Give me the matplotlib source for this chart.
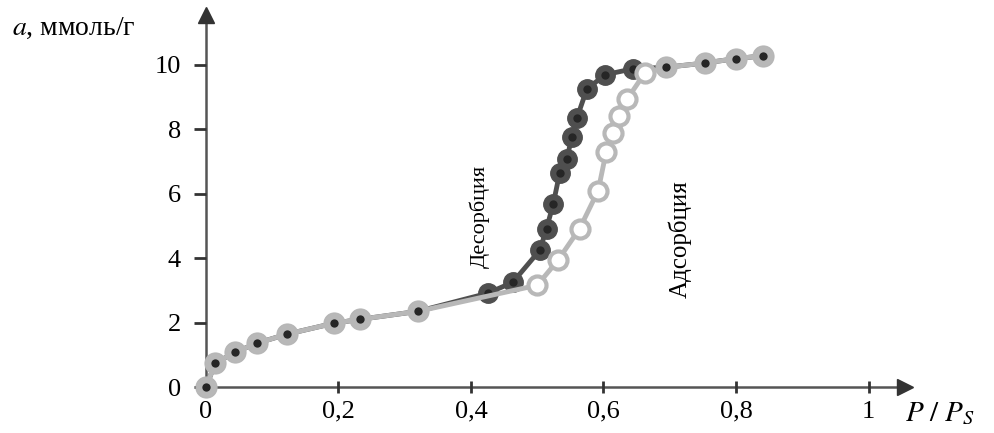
import numpy as np
import matplotlib
matplotlib.use("Agg")
import matplotlib.pyplot as plt

plt.rcParams['font.family'] = ['Liberation Serif', 'DejaVu Serif']
plt.rcParams['mathtext.fontset'] = 'stix'

# common low-pressure branch (both curves coincide)
common_x = [0.0, 0.014, 0.044, 0.077, 0.122, 0.193, 0.232, 0.32]
common_y = [0.0, 0.74, 1.08, 1.36, 1.64, 1.98, 2.10, 2.35]

# plateau points shared by both branches
plateau_x = [0.695, 0.753, 0.80, 0.84]
plateau_y = [9.93, 10.06, 10.20, 10.28]

# desorption branch (dark)
des_x = [0.425, 0.463, 0.504, 0.514, 0.524, 0.534, 0.545, 0.552, 0.560, 0.575, 0.603, 0.644]
des_y = [2.91, 3.25, 4.25, 4.92, 5.67, 6.66, 7.09, 7.77, 8.36, 9.26, 9.70, 9.88]

# adsorption branch (light)
ads_x = [0.50, 0.531, 0.564, 0.592, 0.604, 0.615, 0.624, 0.636, 0.662]
ads_y = [3.16, 3.93, 4.92, 6.10, 7.30, 7.88, 8.42, 8.95, 9.74]

xticks = [0, 0.2, 0.4, 0.6, 0.8, 1.0]
xtick_labels = ["0", "0,2", "0,4", "0,6", "0,8", "1"]
yticks = [0, 2, 4, 6, 8, 10]

fig = plt.figure(figsize=(9.95, 4.33), dpi=100)
ax = fig.add_axes([0.207, 0.1062, 0.7025, 0.859])

dx = common_x + des_x + plateau_x
dy = common_y + des_y + plateau_y
ax_ = common_x + ads_x + plateau_x
ay_ = common_y + ads_y + plateau_y

dark = '#4f4f4f'
light = '#b8b8b8'

ax.plot(dx, dy, '-', color=dark, lw=3.5, zorder=2, clip_on=False)
ax.plot(dx, dy, 'o', ms=14, mfc=dark, mec=dark, zorder=3, clip_on=False)
ax.plot(dx, dy, 'o', ms=6, mfc='#262626', mec='none', zorder=4, clip_on=False)

ax.plot(ax_, ay_, '-', color=light, lw=3.5, zorder=5, clip_on=False)
ax.plot(ads_x, ads_y, 'o', ms=13, mfc='white', mec=light, mew=3, zorder=6, clip_on=False)
# shared points: light disc with dark centre
shared_x = common_x + plateau_x
shared_y = common_y + plateau_y
ax.plot(shared_x, shared_y, 'o', ms=15, mfc=light, mec=light, zorder=6, clip_on=False)
ax.plot(shared_x, shared_y, 'o', ms=6, mfc='#262626', mec='none', zorder=7, clip_on=False)

ax.set_xlim(0, 1.055)
ax.set_ylim(0, 11.55)

for s in ['top', 'right']:
    ax.spines[s].set_visible(False)
for s in ['left', 'bottom']:
    ax.spines[s].set_color('#555555')
    ax.spines[s].set_linewidth(1.8)
    ax.spines[s].set_zorder(1)

# arrow heads
ax.plot(1, 0, '>', color='#333333', ms=11, transform=ax.get_yaxis_transform(), clip_on=False)
ax.plot(0, 1, '^', color='#333333', ms=11, transform=ax.get_xaxis_transform(), clip_on=False)

ax.set_xticks(xticks)
ax.set_xticklabels(xtick_labels)
ax.set_yticks(yticks)
ax.tick_params(axis='x', direction='inout', length=8, width=2, color='#333333',
               labelsize=19, pad=6)
ax.tick_params(axis='y', direction='out', length=9, width=2, color='#333333',
               labelsize=19, pad=9)

fig.text(12 / 995, 1 - 28 / 433, "$a$, ммоль/г", fontsize=20, va='center', ha='left')
fig.text(905 / 995, 1 - 414 / 433, r"$P\ /\ P_S$", fontsize=21, va='center', ha='left')

ax.text(0.413, 5.3, "Десорбция", rotation=90, fontsize=16, ha='center', va='center')
ax.text(0.716, 4.6, "Адсорбция", rotation=90, fontsize=18, ha='center', va='center')

fig.savefig("out.png", dpi=100)
